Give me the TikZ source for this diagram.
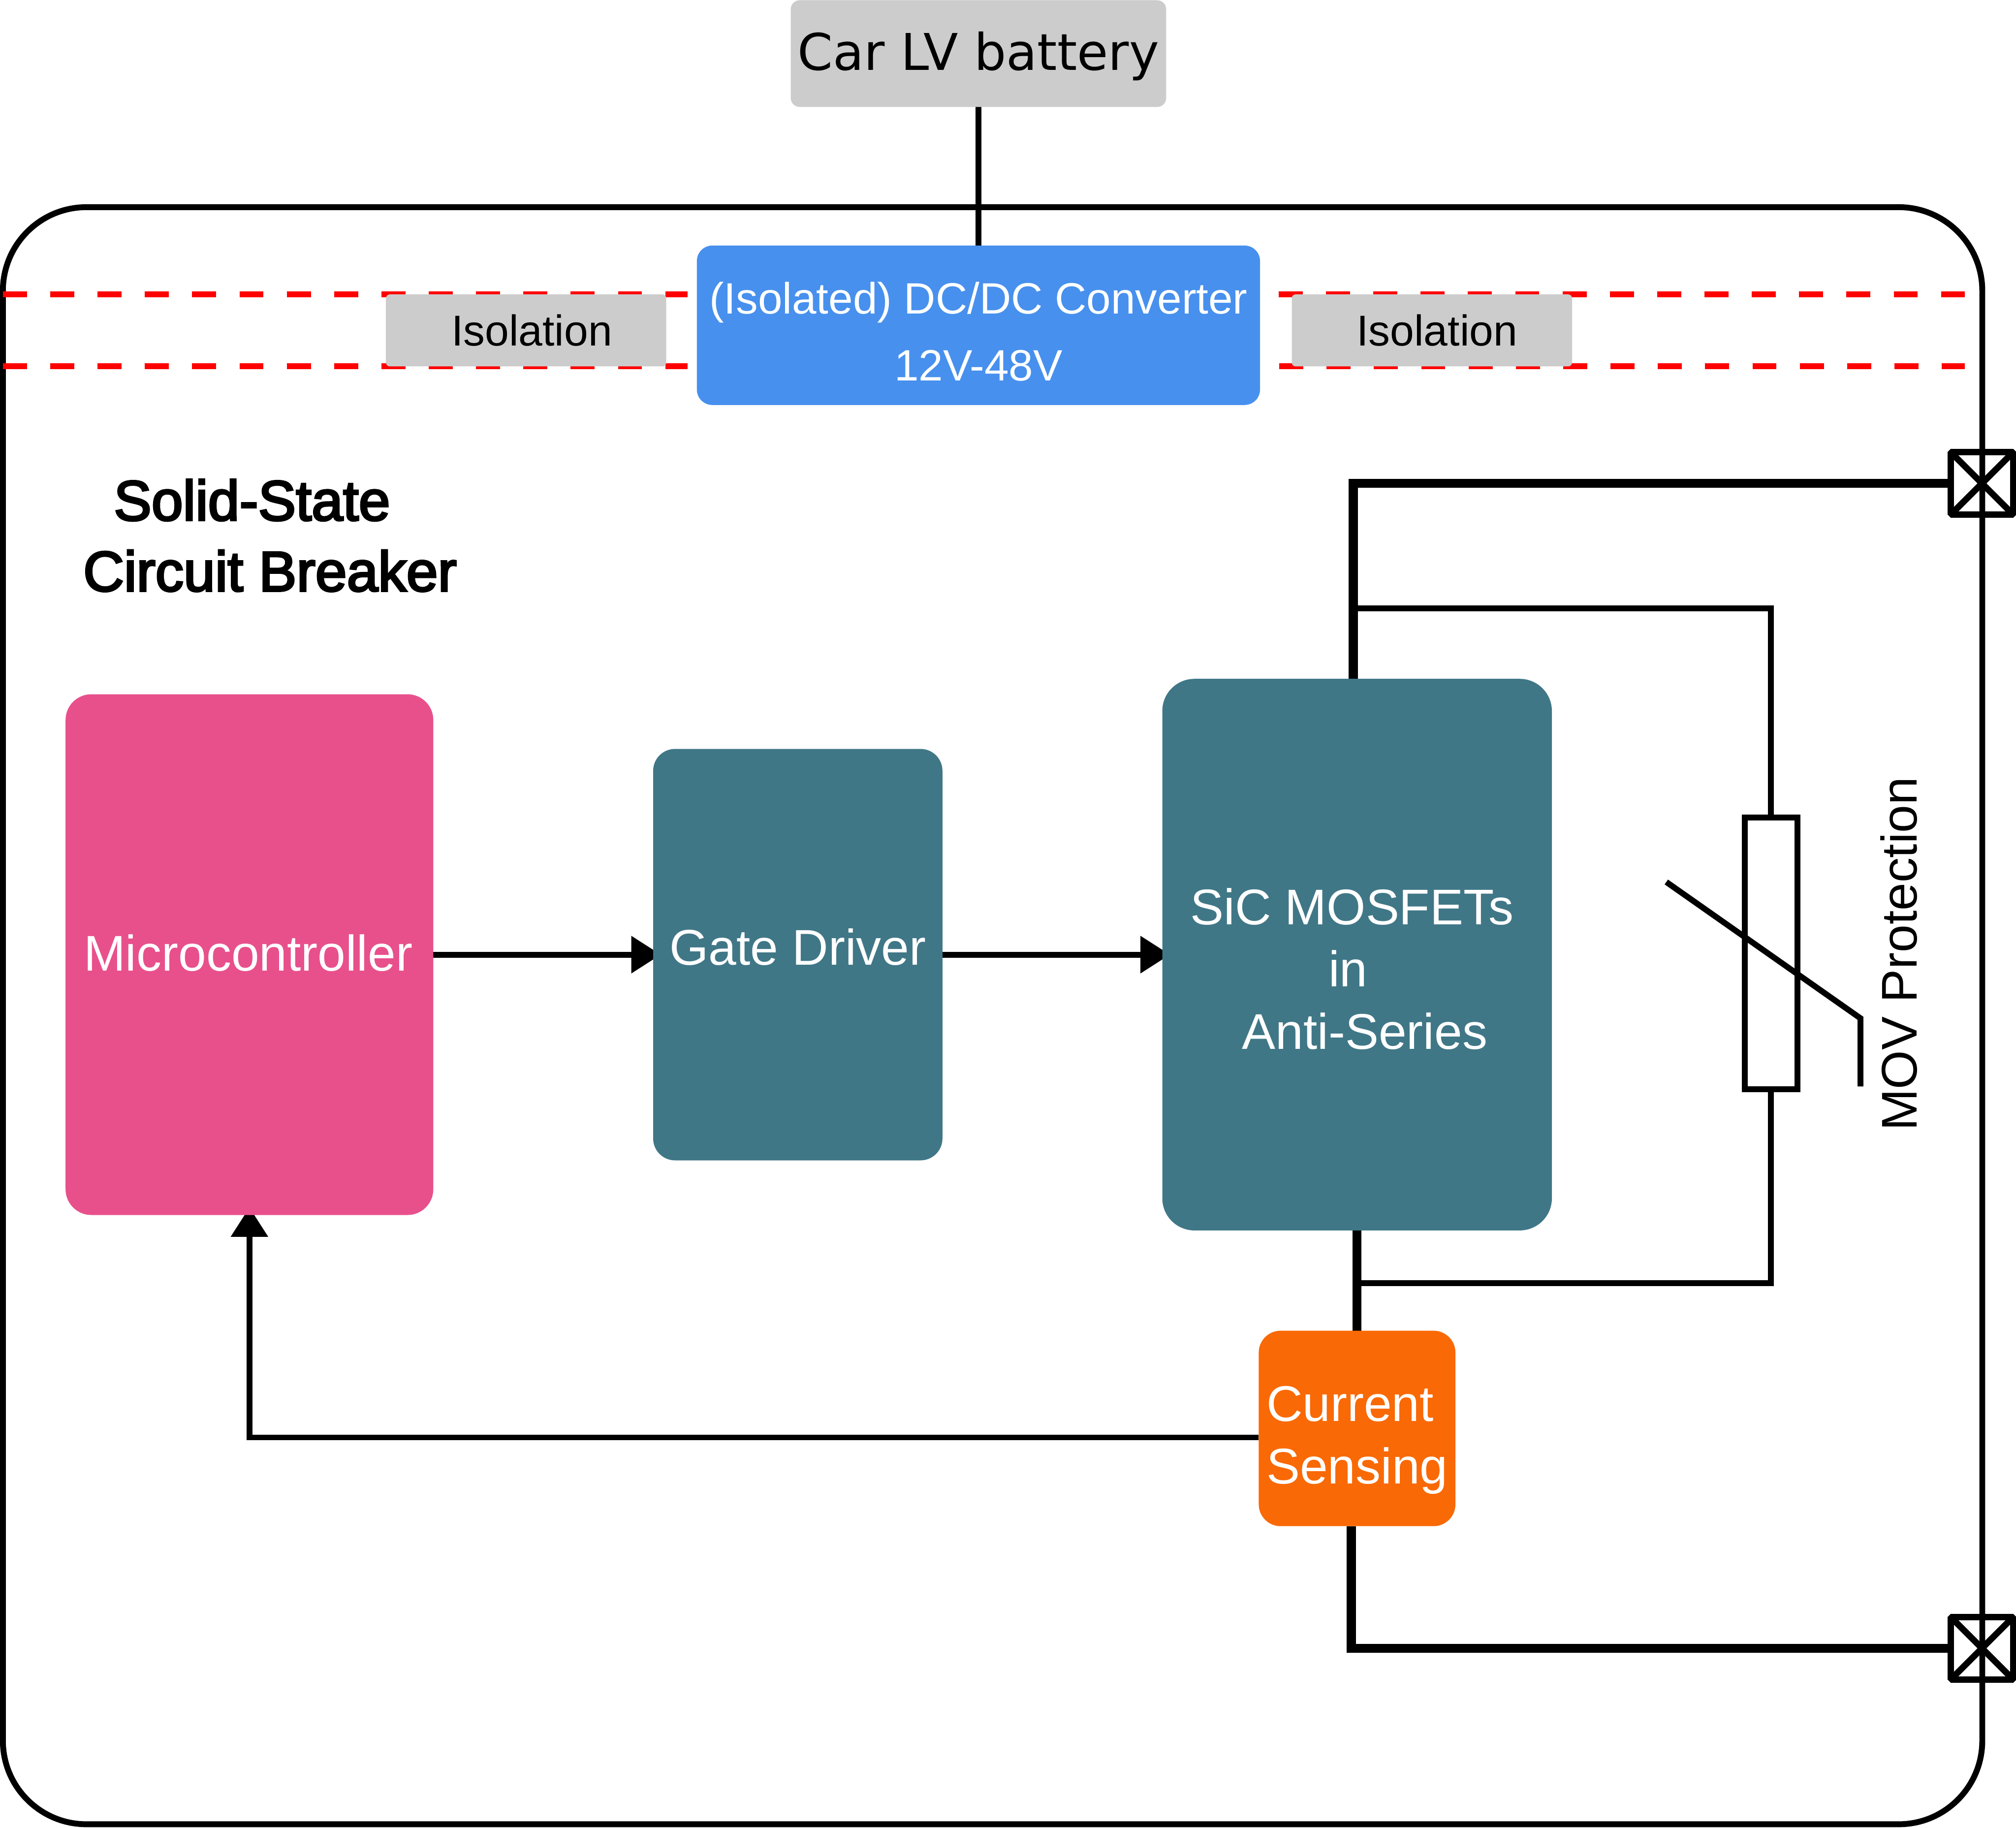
\documentclass[tikz,border=0pt]{standalone}
\usepackage{fontspec}
\setmainfont{Liberation Sans}
\setsansfont{Liberation Sans}
\newfontfamily\batteryfont{DejaVu Sans}
\newfontfamily\titlefont[FakeBold=3.5]{Liberation Sans}
\usetikzlibrary{arrows.meta,backgrounds}

\definecolor{ink}{HTML}{000000}
\definecolor{isogray}{HTML}{CCCCCC}
\definecolor{isored}{HTML}{FF0000}
\definecolor{dcblue}{HTML}{4790EE}
\definecolor{mcupink}{HTML}{E8508C}
\definecolor{powerteal}{HTML}{407787}
\definecolor{senseorange}{HTML}{F96905}

\begin{document}
\begin{tikzpicture}[
  x=1cm,
  y=1cm,
  font=\sffamily,
  outer sep=0pt,
  card/.style={rounded corners=.17cm,inner sep=0pt,text=white,
    font=\sffamily\fontsize{11.1}{13.8}\selectfont,align=center},
  graybox/.style={rounded corners=.03cm,fill=isogray,inner sep=0pt,text=ink,
    font=\sffamily\fontsize{9.55}{12}\selectfont},
  boxtext/.style={font=\sffamily\fontsize{11.1}{13.8}\selectfont,text=white},
  wire/.style={draw=ink,line width=1.3pt},
  buswire/.style={draw=ink,line width=2pt},
  signal/.style={wire,-{Triangle[length=.23cm,width=.28cm]},shorten >=-.06cm},
  isoline/.style={draw=isored,line width=1.3pt,dash pattern=on .187cm off .181cm},
  terminal/.style={draw=ink,line width=1.4pt,line join=bevel,minimum size=.485cm,
    inner sep=0pt}
]
\useasboundingbox (0,0) rectangle (15.68,14.217);

\begin{scope}[on background layer]
\node[draw=ink,line width=1.3pt,rounded corners=.65cm,minimum width=15.395cm,
  minimum height=12.577cm] (breaker) at (7.72,6.317) {};
\end{scope}

\node[graybox,rounded corners=.07cm,minimum width=2.92cm,minimum height=.83cm]
  (battery) at (7.61,13.80) {};
\node[text=ink,font=\batteryfont\fontsize{11.2}{13}\selectfont]
  (batterytext) at ([yshift=-.02cm]battery.center) {Car LV battery};
\node[card,fill=dcblue,rounded corners=.12cm,minimum width=4.38cm,minimum height=1.24cm]
  (dcdc) at (7.61,11.687) {};
\node[boxtext,align=center,font=\sffamily\fontsize{9.7}{14.8}\selectfont]
  (dcdctext) at ([yshift=-.05cm]dcdc.center) {(Isolated) DC/DC Converter\\12V-48V};
\node[graybox,minimum width=2.18cm,minimum height=.56cm] (isoleft) at (4.092,11.647)
  {\hspace*{.09cm}Isolation};
\node[graybox,minimum width=2.18cm,minimum height=.56cm] (isoright) at (11.137,11.647)
  {\hspace*{.08cm}Isolation};

\node[font=\titlefont\fontsize{12.5}{15.65}\selectfont,align=center,text=ink]
  (title) at (2.10,10.052) {Solid-State\hspace*{.28cm}\\Circuit Breaker};

\node[card,fill=mcupink,rounded corners=.2cm,minimum width=2.86cm,minimum height=4.05cm]
  (micro) at (1.94,6.792) {};
\node[boxtext] (microtext) at ([xshift=-.01cm,yshift=.015cm]micro.center) {Microcontroller};
\node[card,fill=powerteal,minimum width=2.25cm,minimum height=3.2cm]
  (gate) at (6.205,6.792) {};
\node[boxtext] (gatetext) at ([yshift=.06cm]gate.center) {Gate Driver};
\node[card,fill=powerteal,rounded corners=.25cm,minimum width=3.03cm,minimum height=4.29cm]
  (sic) at (10.555,6.792) {};
\node[boxtext,align=center] (sictext) at ([yshift=-.11cm]sic.center)
  {SiC MOSFETs\hspace*{.08cm}\\\hspace*{-.14cm}in\\\hspace*{.12cm}Anti-Series};
\node[card,fill=senseorange,minimum width=1.53cm,minimum height=1.52cm]
  (sensing) at (10.555,3.107) {};
\node[boxtext,align=left] (sensingtext) at ([yshift=-.09cm]sensing.center)
  {Current\\Sensing};

\node[draw=ink,line width=1.3pt,minimum width=.41cm,minimum height=2.11cm,inner sep=0pt]
  (mov) at (13.775,6.802) {};
\node[rotate=90,text=ink,font=\sffamily\fontsize{11.1}{13.8}\selectfont]
  (movtext) at (14.77,6.797) {MOV Protection};

\node[terminal] (termtop) at (15.415,10.457) {};
\node[terminal] (termbot) at (15.415,1.397) {};
\draw[terminal] (termtop.north west) -- (termtop.south east);
\draw[terminal] (termtop.north east) -- (termtop.south west);
\draw[terminal] (termbot.north west) -- (termbot.south east);
\draw[terminal] (termbot.north east) -- (termbot.south west);

\coordinate (movjointop) at (10.52,9.487);
\coordinate (movjoinbot) at (10.55,4.237);
\coordinate (movhead) at (12.96,7.357);
\coordinate (movbend) at (14.47,6.297);
\coordinate (movtail) at (14.47,5.767);
\draw[wire] (movhead) -- (movbend) -- (movtail);

\begin{scope}[on background layer]
\draw[isoline] (isoleft.north -| breaker.west) -- ([xshift=-.072cm]isoleft.north -| dcdc.west);
\draw[isoline] (isoleft.south -| breaker.west) -- ([xshift=-.072cm]isoleft.south -| dcdc.west);
\draw[isoline] ([xshift=.145cm]isoright.north -| dcdc.east) -- ([xshift=-.135cm]isoright.north -| breaker.east);
\draw[isoline] ([xshift=.15cm]isoright.south -| dcdc.east) -- ([xshift=-.135cm]isoright.south -| breaker.east);

\draw[wire] (battery.south) -- (dcdc.north);
\draw[signal] (micro.east) -- (gate.west);
\draw[signal] (gate.east) -- (sic.west);
\draw[signal] ([yshift=-.07cm]sensing.west) -| (micro.south);

\draw[buswire] ([xshift=-.03cm]sic.north) |- (termtop.west);
\draw[buswire] (sic.south) -- (sensing.north);
\draw[buswire] ([xshift=-.045cm]sensing.south) |- (termbot.west);
\draw[wire] (movjointop) -| (mov.north);
\draw[wire] (movjoinbot) -| (mov.south);
\end{scope}
\end{tikzpicture}
\end{document}
